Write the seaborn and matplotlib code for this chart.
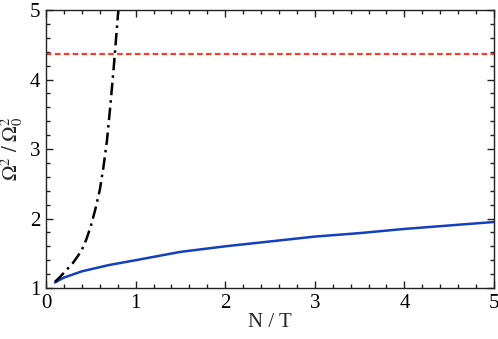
import numpy as np
import pandas as pd
import seaborn as sns
import matplotlib.pyplot as plt
from matplotlib.ticker import MultipleLocator

# Blue curve (solid)
blue_x = [0.1, 0.2, 0.4, 0.7, 1.0, 1.5, 2.0, 2.5, 3.0, 3.5, 4.0, 4.5, 5.0]
blue_y = [1.08, 1.15, 1.24, 1.33, 1.40, 1.52, 1.60, 1.67, 1.74, 1.79, 1.85, 1.90, 1.95]

# Black curve (dash-dot)
black_x = [0.10, 0.15, 0.20, 0.25, 0.30, 0.35, 0.40, 0.45, 0.50, 0.55, 0.60,
           0.64, 0.68, 0.72, 0.76, 0.79, 0.81]
black_y = [1.09, 1.15, 1.22, 1.29, 1.36, 1.45, 1.55, 1.70, 1.89, 2.13, 2.41,
           2.73, 3.12, 3.65, 4.24, 4.72, 5.05]

# Red horizontal level (dotted)
red_level = 4.37

sns.set_style("ticks")
plt.rcParams["font.family"] = ["Liberation Serif", "DejaVu Serif"]
plt.rcParams["mathtext.fontset"] = "stix"

fig = plt.figure(figsize=(4.98, 3.39), dpi=100)
ax = fig.add_axes([0.0924, 0.1504, 0.8996, 0.8201])

sns.lineplot(x=blue_x, y=blue_y, ax=ax, color="#1440c0", linewidth=1.8)
sns.lineplot(x=black_x, y=black_y, ax=ax, color="black", linewidth=1.8,
             linestyle=(0, (5, 2, 1, 2)))
ax.axhline(red_level, color="#ff3a2a", linewidth=1.6, linestyle=(0, (2.5, 1.5)))

ax.set_xlim(0, 5)
ax.set_ylim(1, 5)
ax.xaxis.set_major_locator(MultipleLocator(1))
ax.xaxis.set_minor_locator(MultipleLocator(0.2))
ax.yaxis.set_major_locator(MultipleLocator(1))
ax.yaxis.set_minor_locator(MultipleLocator(0.2))
ax.tick_params(which="both", direction="in", top=True, right=True, labelsize=15,
               width=1, pad=4, colors="#222222", labelcolor="black")
ax.tick_params(which="major", length=5)
ax.tick_params(which="minor", length=3)
for s in ax.spines.values():
    s.set_linewidth(1.0)
    s.set_color("#222222")

ax.set_xlabel("N / T", fontsize=15)
ax.set_ylabel(r"$\Omega^2\ /\ \Omega_0^2$", fontsize=15)
ax.xaxis.set_label_coords(0.5, -0.09)
ax.yaxis.set_label_coords(-0.046, 0.5)

fig.savefig("out.png", dpi=100)
